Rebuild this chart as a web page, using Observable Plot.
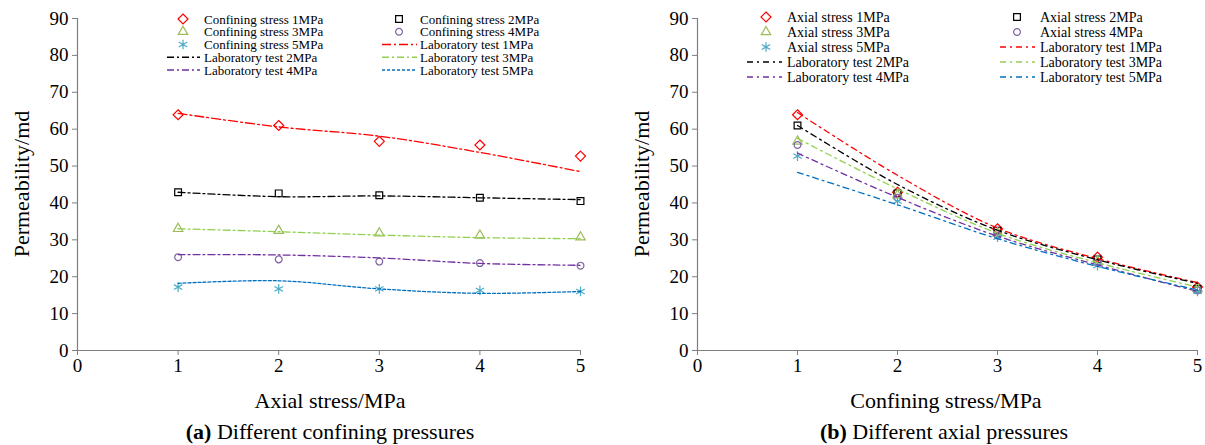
<!DOCTYPE html>
<html><head><meta charset="utf-8">
<script src="https://cdn.jsdelivr.net/npm/d3@7"></script>
<script src="https://cdn.jsdelivr.net/npm/@observablehq/plot@0.6"></script>
<style>
html,body{margin:0;padding:0;background:#fff;}
#wrap{position:relative;width:1205px;height:445px;overflow:hidden;background:#fff;}
#wrap svg{position:absolute;top:0;}
#wrap svg, #wrap svg text{font-family:"Liberation Serif","Times New Roman",serif !important;}
</style></head><body><div id="wrap"></div>
<script>
// ---- shared ----
const xStress = [1, 2, 3, 4, 5];
const xTicks = [0, 1, 2, 3, 4, 5];
const yTicks = [0, 10, 20, 30, 40, 50, 60, 70, 80, 90];
const mpaLabels = ["1MPa", "2MPa", "3MPa", "4MPa", "5MPa"];

// ---- panel (a): different confining pressures (x = axial stress) ----
const aSim1 = [63.9, 61.0, 56.7, 55.7, 52.7];
const aSim2 = [42.9, 42.6, 42.1, 41.4, 40.5];
const aSim3 = [33.0, 32.5, 31.8, 31.2, 30.7];
const aSim4 = [25.3, 24.7, 24.1, 23.7, 23.0];
const aSim5 = [17.2, 16.7, 16.7, 16.3, 16.0];
const aLab1 = [64.3, 60.6, 58.1, 53.7, 48.5];
const aLab2 = [42.9, 41.7, 41.9, 41.4, 40.9];
const aLab3 = [33.0, 32.2, 31.3, 30.6, 30.3];
const aLab4 = [26.0, 25.9, 25.1, 23.6, 23.1];
const aLab5 = [18.2, 18.9, 16.7, 15.5, 16.0];

// ---- panel (b): different axial pressures (x = confining stress) ----
const bSim1 = [63.9, 42.9, 33.0, 25.3, 17.2];
const bSim2 = [61.0, 42.6, 32.5, 24.7, 16.7];
const bSim3 = [56.7, 42.1, 31.8, 24.1, 16.7];
const bSim4 = [55.7, 41.4, 31.2, 23.7, 16.3];
const bSim5 = [52.7, 40.5, 30.7, 23.0, 16.0];
const bLab1 = [64.5, 47.5, 33.2, 24.9, 18.4];
const bLab2 = [61.0, 45.0, 32.6, 24.6, 18.2];
const bLab3 = [57.5, 43.8, 31.8, 23.8, 17.2];
const bLab4 = [53.5, 41.5, 31.0, 23.2, 16.0];
const bLab5 = [48.3, 39.5, 30.3, 22.8, 16.4];

// ---- styles ----
const simColors = ["#ff0000", "#000000", "#9bbb59", "#8064a2", "#4bacc6"];
const simSymbols = ["diamond2", "square2", "triangle2", "circle", "asterisk"];
const simRadius = [4.5, 4.3, 4.5, 3.4, 4.6];
const labColors = ["#ff0000", "#000000", "#92d050", "#7030a0", "#0070c0"];
const aDash = ["9,3,2,3", "7,3,2,3", "7,3,2,3", "7,3,2,3", "3,2"];
const bDash = ["6,4,2,4", "6,4,2,4", "6,4,2,4", "6,4,2,4", "6,4,2,4"];
const axisGray = "#7f7f7f";
const FONT = '"Liberation Serif","Times New Roman",serif';

function rows(arr) { return arr.map((v, j) => ({x: xStress[j], y: v})); }

function panel(sims, labs, dash, opts) {
  const marks = [
    Plot.ruleX([0], {y1: 0, y2: 90, stroke: axisGray, strokeWidth: 1.2}),
    Plot.ruleY([0], {x1: 0, x2: 5, stroke: axisGray, strokeWidth: 1.2}),
    Plot.axisY({ticks: yTicks, tickSize: 5, tickPadding: 4, tickFormat: d3.format("d"), stroke: axisGray, fill: "black", label: null}),
    Plot.axisX({ticks: xTicks, tickSize: 5, tickPadding: 3, tickFormat: d3.format("d"), stroke: axisGray, fill: "black", label: null})
  ];
  sims.forEach((arr, i) => marks.push(Plot.dot(rows(arr), {
    x: "x", y: "y", symbol: () => simSymbols[i], stroke: simColors[i], r: simRadius[i], strokeWidth: 1.2, fill: "none"
  })));
  labs.forEach((arr, i) => marks.push(Plot.line(rows(arr), {
    x: "x", y: "y", stroke: labColors[i], strokeDasharray: dash[i], strokeWidth: 1.3, curve: "catmull-rom"
  })));
  return Plot.plot({
    width: opts.width, height: 410,
    marginLeft: opts.marginLeft, marginRight: opts.marginRight, marginTop: 18, marginBottom: 60,
    x: {domain: [0, 5]},
    y: {domain: [0, 90]},
    symbol: {type: "identity"},
    style: `font-family:${FONT};font-size:19px;color:black;background:white;overflow:visible;`,
    marks
  });
}

const wrap = document.getElementById("wrap");
const svgA = panel([aSim1, aSim2, aSim3, aSim4, aSim5], [aLab1, aLab2, aLab3, aLab4, aLab5], aDash,
  {width: 600, marginLeft: 77, marginRight: 20});
svgA.style.left = "0px";
wrap.appendChild(svgA);
const svgB = panel([bSim1, bSim2, bSim3, bSim4, bSim5], [bLab1, bLab2, bLab3, bLab4, bLab5], bDash,
  {width: 605, marginLeft: 97, marginRight: 8});
svgB.style.left = "600px";
wrap.appendChild(svgB);

// ---- overlay: titles, captions, legends ----
const ov = d3.select(wrap).append("svg")
  .attr("width", 1205).attr("height", 445)
  .style("left", "0px").style("pointer-events", "none")
  .style("font-family", FONT);

function yTitle(cx) {
  ov.append("text").attr("transform", `translate(${cx},184) rotate(-90)`)
    .attr("text-anchor", "middle").attr("dy", "0.35em").attr("font-size", 22).text("Permeability/md");
}
yTitle(21); yTitle(641);
ov.append("text").attr("x", 330).attr("y", 400).attr("dy", "0.35em").attr("text-anchor", "middle")
  .attr("font-size", 22).text("Axial stress/MPa");
ov.append("text").attr("x", 946).attr("y", 400).attr("dy", "0.35em").attr("text-anchor", "middle")
  .attr("font-size", 22).text("Confining stress/MPa");
function caption(cx, letter, rest) {
  const t = ov.append("text").attr("x", cx).attr("y", 431).attr("dy", "0.35em").attr("text-anchor", "middle").attr("font-size", 22);
  t.append("tspan").attr("font-weight", "bold").text(`(${letter})`);
  t.append("tspan").text(" " + rest);
}
caption(330, "a", "Different confining pressures");
caption(944, "b", "Different axial pressures");

function legend(simPrefix, dash, cfg) {
  const entries = [];
  mpaLabels.forEach((m, i) => entries.push({kind: "sim", i, label: `${simPrefix} ${m}`}));
  mpaLabels.forEach((m, i) => entries.push({kind: "lab", i, label: `Laboratory test ${m}`}));
  entries.forEach((e, k) => {
    const col = k % 2, row = Math.floor(k / 2);
    const y = cfg.rowY[row];
    const c = cfg.cols[col];
    if (e.kind === "sim") {
      const r = simRadius[e.i];
      ov.append("path")
        .attr("d", d3.symbol(d3["symbol" + simSymbols[e.i][0].toUpperCase() + simSymbols[e.i].slice(1)], Math.PI * r * r)())
        .attr("transform", `translate(${c.mx},${y})`)
        .attr("fill", "none").attr("stroke", simColors[e.i]).attr("stroke-width", 1.2);
    } else {
      ov.append("line").attr("x1", c.l1).attr("x2", c.l2).attr("y1", y).attr("y2", y)
        .attr("stroke", labColors[e.i]).attr("stroke-width", 1.3).attr("stroke-dasharray", dash[e.i]);
    }
    ov.append("text").attr("x", c.tx).attr("y", y).attr("dy", "0.35em").attr("font-size", cfg.fs).text(e.label);
  });
}
legend("Confining stress", aDash, {
  fs: 13, rowY: [19, 31.75, 44.5, 57.25, 70],
  cols: [{mx: 183, l1: 167, l2: 200, tx: 204}, {mx: 399, l1: 382, l2: 417, tx: 420}]
});
legend("Axial stress", bDash, {
  fs: 14, rowY: [17, 32, 47, 62, 77],
  cols: [{mx: 766, l1: 747, l2: 782, tx: 787}, {mx: 1017, l1: 1000, l2: 1035, tx: 1040}]
});
</script></body></html>
